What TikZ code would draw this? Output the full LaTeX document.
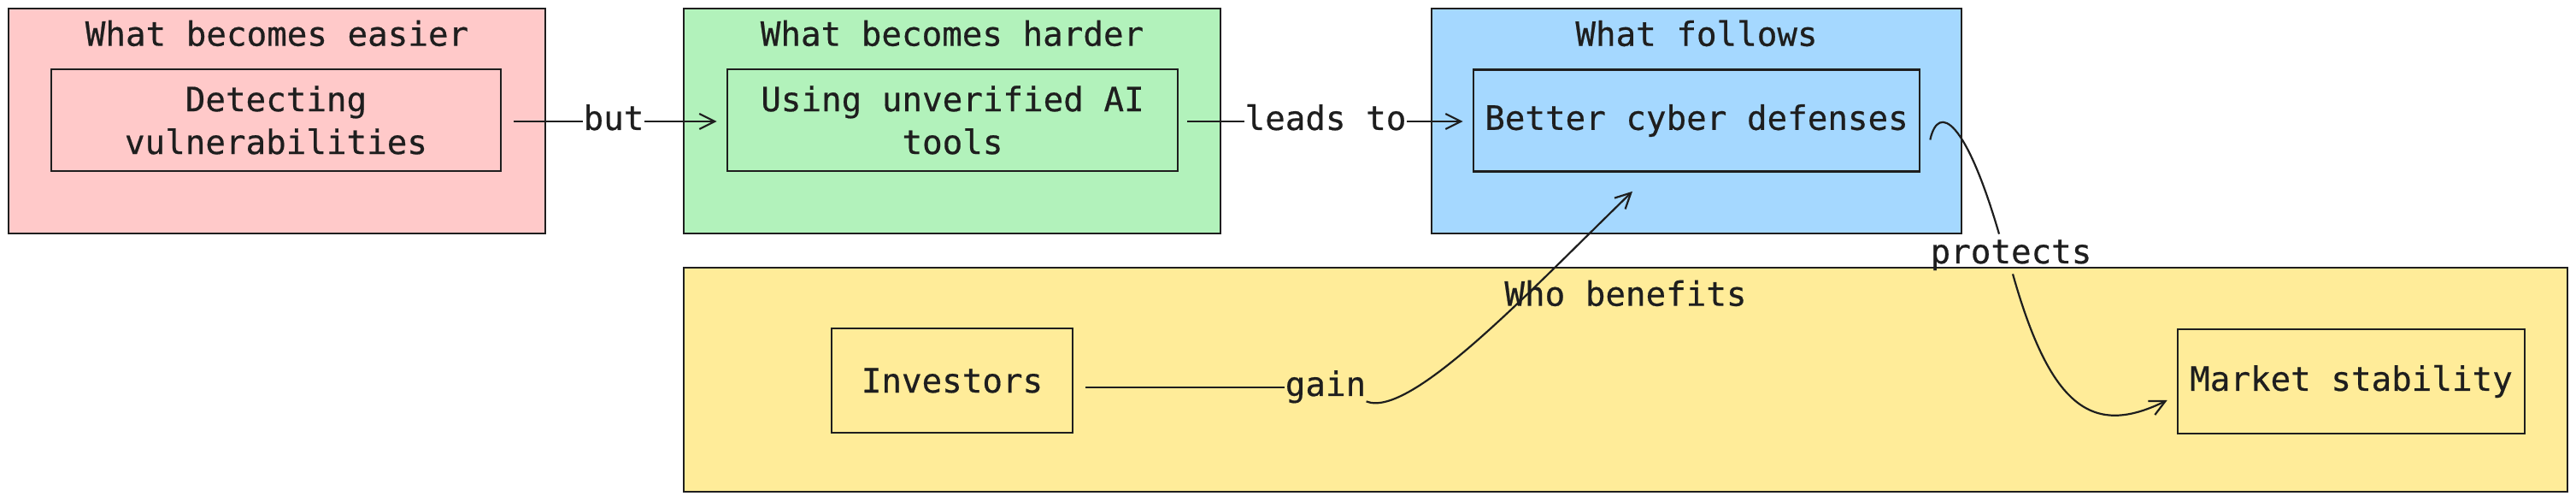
\documentclass[tikz,border=0pt]{standalone}
\usepackage{fontspec}
\newfontfamily\diagfont{DejaVu Sans Mono}[FakeBold=0.5]
\usetikzlibrary{arrows.meta,calc}

\definecolor{easierfill}{HTML}{FFC9C9}
\definecolor{harderfill}{HTML}{B2F2BB}
\definecolor{followsfill}{HTML}{A5D8FF}
\definecolor{benefitsfill}{HTML}{FFEC99}
\definecolor{inkline}{HTML}{1E1E1E}

\begin{document}
\begin{tikzpicture}[x=1pt,y=-1pt,
		every node/.style={font=\diagfont\fontsize{19.6}{25}\selectfont,text=inkline},
		cluster/.style={draw=inkline,line width=1.3pt,inner sep=0pt},
		box/.style={draw=inkline,line width=1.3pt,inner sep=0pt,align=center},
		lbl/.style={inner sep=0pt,text height=13pt,text depth=3pt},
		edge/.style={draw=inkline,line width=1.1pt},
		tip/.style={-{Straight Barb[length=9pt,width=9pt]}}]
		\useasboundingbox (0,0) rectangle (1507,293.5);
		\fill[white] (0,0) rectangle (1507,293.5);

		% clusters
		\node[cluster,fill=easierfill,minimum width=314pt,minimum height=131.5pt] (easier) at (162,70.75) {};
		\node[cluster,fill=harderfill,minimum width=314pt,minimum height=131.5pt] (harder) at (557,70.75) {};
		\node[cluster,fill=followsfill,minimum width=310pt,minimum height=131.5pt] (follows) at (992.5,70.75) {};
		\node[cluster,fill=benefitsfill,minimum width=1102pt,minimum height=131pt] (benefits) at (951,222) {};

		\node (teasier) at (162,19.5) {What becomes easier};
		\node (tharder) at (557,19.5) {What becomes harder};
		\node (tfollows) at (992.5,19.5) {What follows};
		\node (tbenefits) at (951,171.5) {Who benefits};

		% inner nodes
		\node[box,minimum width=263pt,minimum height=59.5pt] (detect) at (161.5,70.25) {Detecting\\vulnerabilities};
		\node[box,minimum width=263.5pt,minimum height=59.5pt] (unverified) at (557.25,70.25) {Using unverified AI\\tools};
		\node[box,minimum width=261pt,minimum height=59.5pt] (defenses) at (992.5,70.5) {Better cyber defenses};
		\node[box,minimum width=141pt,minimum height=61pt] (investors) at (557,222.5) {Investors};
		\node[box,minimum width=203pt,minimum height=61pt] (stability) at (1375.5,223) {Market stability};

		% edge labels
		\node[lbl] (lbut) at (359,71) {but};
		\node[lbl] (lleads) at (775.5,71) {leads to};
		\node[lbl] (lgain) at (775.5,226.5) {gain};
		\node[lbl] (lprotects) at (1176.5,149) {protects};

		% connectors
		\draw[edge,shorten <=7pt] (detect.east |- lbut) -- (lbut);
		\draw[edge,tip,shorten >=5.5pt] (lbut) -- (lbut -| unverified.west);
		\draw[edge,shorten <=5pt] (unverified.east |- lleads) -- (lleads);
		\draw[edge,tip,shorten >=5.5pt] (lleads) -- (lleads -| defenses.west);
		\draw[edge,shorten <=7pt] (investors.east |- lgain) -- (lgain);
		\draw[edge,tip] (lgain.south east) .. controls (825,245) and (895,170) .. ($(defenses.south)+(-37.5,11)$);
		\draw[edge] ($(defenses.east)+(5.5,11.25)$) .. controls (1134,60) and (1150,70) .. ($(lprotects.north)+(-7,-4)$);
		\draw[edge,tip] ($(lprotects.south)+(1,3)$) .. controls (1200,240) and (1225,255) .. ($(stability.west)+(-5.5,11)$);
\end{tikzpicture}
\end{document}
